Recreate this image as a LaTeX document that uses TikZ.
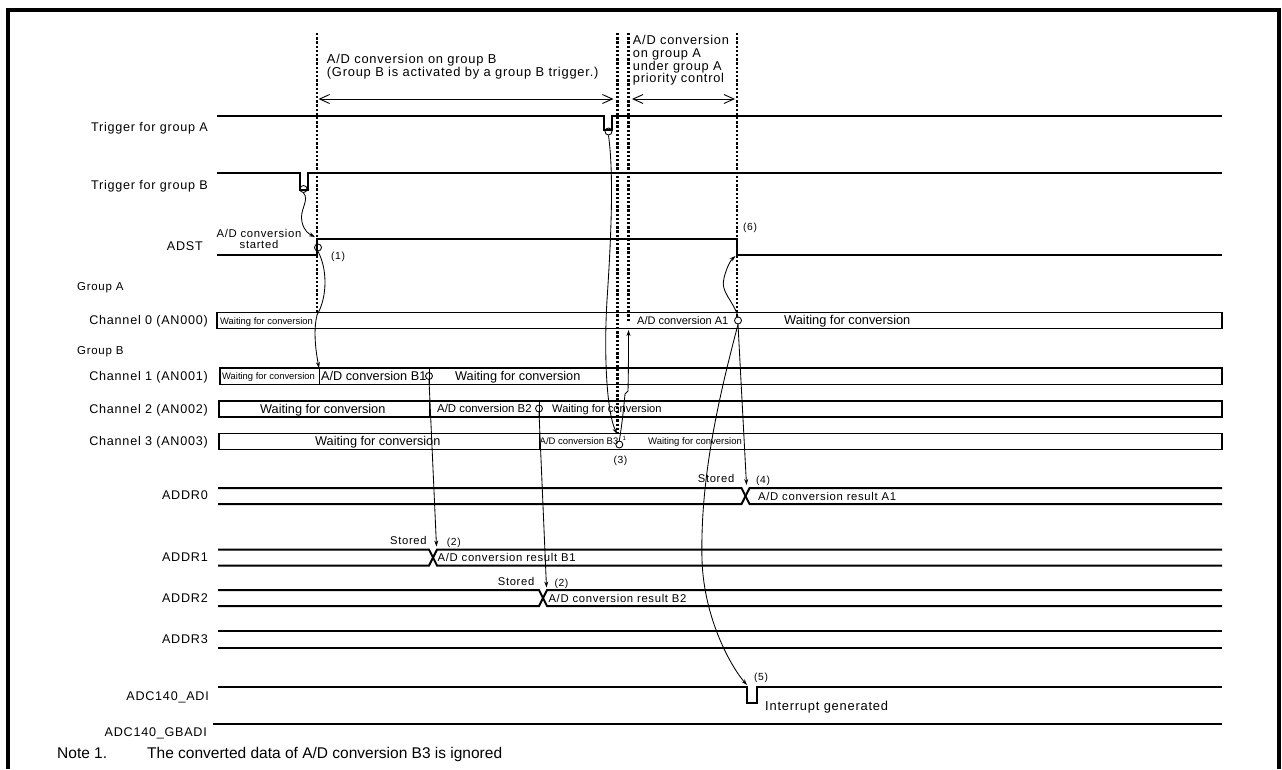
\documentclass[tikz,border=0pt]{standalone}
\usepackage{fontspec}
\setmainfont{Liberation Sans}[LetterSpace=6]
\newfontfamily\plainsf{Liberation Sans}
\usetikzlibrary{arrows.meta}
\newcommand\fsz[1]{\fontsize{#1}{#1}\selectfont}
\begin{document}
\begin{tikzpicture}[x=1pt,y=-1pt,
  sig/.style={line width=2pt,line join=miter},
  chbox/.style={draw,line width=1.8pt},
  divl/.style={line width=1pt},
  dotl/.style={line width=2.4pt,dash pattern=on 2.4pt off 1.8pt},
  conn/.style={line width=0.85pt,-{Stealth[length=6pt,width=4pt]}},
  span/.style={line width=0.9pt,{Straight Barb[length=10pt,width=9pt]}-{Straight Barb[length=10pt,width=9pt]}},
  circ/.style={circle,draw,line width=0.85pt,minimum size=7pt,inner sep=0pt},
  lab/.style={anchor=base east,inner sep=0pt,font=\fsz{12.6}},
  txt/.style={anchor=base west,inner sep=0pt},
  ctxt/.style={anchor=base,inner sep=0pt},
]
\useasboundingbox (0,0) rectangle (1282,769);
\fill[white] (0,0) rectangle (1282,769);
% frame
\draw[line width=3.5pt] (8,769) -- (8,10) -- (1279,10) -- (1279,769);

% ---------- labels ----------
\node[lab] (lTA) at (208,131) {Trigger for group A};
\node[lab] (lTB) at (208,189) {Trigger for group B};
\node[lab] (lADST) at (203,250) {ADST};
\node[txt,font=\fsz{11.5}] (lGA) at (77,290.5) {Group A};
\node[txt,font=\fsz{11.5}] (lGB) at (77,354.5) {Group B};
\node[lab] (lC0) at (208,324.5) {Channel 0 (AN000)};
\node[lab] (lC1) at (208,380) {Channel 1 (AN001)};
\node[lab] (lC2) at (208,413) {Channel 2 (AN002)};
\node[lab] (lC3) at (208,445) {Channel 3 (AN003)};
\node[lab] (lR0) at (208,499.5) {ADDR0};
\node[lab] (lR1) at (208,561.5) {ADDR1};
\node[lab] (lR2) at (208,602.5) {ADDR2};
\node[lab] (lR3) at (208,643.3) {ADDR3};
\node[lab] (lADI) at (209,700.7) {ADC140\_ADI};
\node[lab] (lGBADI) at (207,736.7) {ADC140\_GBADI};

% ---------- top annotations ----------
\node[txt,font=\fsz{12.9}] (an1) at (326.7,63.3) {A/D conversion on group B};
\node[txt,font=\fsz{12.9}] (an2) at (326.7,76) {(Group B is activated by a group B trigger.)};
\node[txt,font=\fsz{12.8}] (an3) at (632.7,44.3) {A/D conversion};
\node[txt,font=\fsz{12.8}] (an4) at (632.7,57.3) {on group A};
\node[txt,font=\fsz{12.8}] (an5) at (632.7,70) {under group A};
\node[txt,font=\fsz{12.8}] (an6) at (632.7,82.3) {priority control};

% ---------- dotted lines ----------
\coordinate (d1t) at (317,33);   \coordinate (d1b) at (317,314);
\coordinate (d2t) at (617.5,33); \coordinate (d2b) at (617.5,434);
\coordinate (d3t) at (628.5,33); \coordinate (d3b) at (628.5,322);
\coordinate (d4t) at (737,33);   \coordinate (d4b) at (737,318);
\draw[dotl] (d1t) -- (d1b);
\draw[dotl] (d2t) -- (d2b);
\draw[dotl] (d3t) -- (d3b);
\draw[dotl] (d4t) -- (d4b);

% ---------- span arrows ----------
\coordinate (s1a) at (318.5,99); \coordinate (s1b) at (613.5,99);
\coordinate (s2a) at (632,99);   \coordinate (s2b) at (735,99);
\draw[span] (s1a) -- (s1b);
\draw[span] (s2a) -- (s2b);

% ---------- trigger signals ----------
\draw[sig] (217,116) -- (604,116) -- (604,130) -- (611.5,130) -- (611.5,116) -- (1222,116);
\node[circ] (cTA) at (608.5,131.5) {};
\draw[sig] (217,173) -- (299.5,173) -- (299.5,189.5) -- (308,189.5) -- (308,173) -- (1222,173);
\node[circ] (cTB) at (303.5,189) {};

% ---------- ADST ----------
\draw[sig] (217,255) -- (317,255) -- (317,239) -- (737,239) -- (737,255) -- (1222,255);
\node[circ] (cAD) at (318,247.5) {};
\node[ctxt,font=\fsz{11.3}] (adst1) at (259,237.7) {A/D conversion};
\node[ctxt,font=\fsz{11.3}] (adst2) at (259,248.5) {started};
\node[txt,font=\fsz{10.3}] (n1) at (331,259.5) {(1)};
\node[txt,font=\fsz{10.3}] (n6) at (743,230.7) {(6)};
\coordinate (adR) at (315,237);
\coordinate (adF) at (735.5,256);

% ---------- channel boxes ----------
\draw[chbox] (217,312.5) rectangle (1222,328.5);
\node[txt,font=\plainsf\fsz{9.4}] (t00) at (220,324) {Waiting for conversion};
\node[txt,font=\plainsf\fsz{11}] (t01) at (637,324.5) {A/D conversion A1};
\node[circ] (cA1) at (738,320.5) {};
\node[txt,font=\plainsf\fsz{12.8}] (t02) at (784,324.8) {Waiting for conversion};

\draw[chbox] (220,368) rectangle (1222,384.5);
\draw[divl] (319,368) -- (319,384.5);
\draw[divl] (429,368) -- (429,384.5);
\node[txt,font=\plainsf\fsz{9.4}] (t10) at (222,379.5) {Waiting for conversion};
\node[txt,font=\plainsf\fsz{12.7}] (t11) at (321,380.5) {A/D conversion B1};
\node[circ] (cB1) at (429,376) {};
\node[txt,font=\plainsf\fsz{12.7}] (t12) at (455,380.5) {Waiting for conversion};

\draw[chbox] (219,401) rectangle (1222,417);
\draw[divl] (429,401) -- (429,417);
\draw[divl] (539,401) -- (539,417);
\node[txt,font=\plainsf\fsz{12.7}] (t20) at (260,413) {Waiting for conversion};
\node[txt,font=\plainsf\fsz{11.4}] (t21) at (437,412.7) {A/D conversion B2};
\node[circ] (cB2) at (539,408.5) {};
\node[txt,font=\plainsf\fsz{11.1}] (t22) at (552,412.7) {Waiting for conversion};

\draw[chbox] (219,433.5) rectangle (1222,449.5);
\draw[divl] (539,433.5) -- (539,449.5);
\node[txt,font=\plainsf\fsz{12.7}] (t30) at (315,445.5) {Waiting for conversion};
\node[txt,font=\plainsf\fsz{9.5}] (t31) at (539.5,444.8) {A/D conversion B3};
\node[txt,font=\plainsf\fsz{6}] (sup1) at (622.5,440) {1};
\node[circ] (cB3) at (619.3,444.5) {};
\node[txt,font=\plainsf\fsz{9.5}] (t32) at (648,444.8) {Waiting for conversion};
\node[txt,font=\fsz{10.3}] (n3) at (613.3,463) {(3)};

\coordinate (c0i) at (628.5,330);
\coordinate (c1d) at (319,368);
\coordinate (c3i) at (617,434);

% ---------- ADDR buses ----------
\draw[sig] (218,488) -- (741.5,488) -- (749.5,504) -- (1222,504);
\draw[sig] (218,504) -- (741.5,504) -- (749.5,488) -- (1222,488);
\node[txt,font=\fsz{11.2}] (st0) at (697.7,482.7) {Stored};
\node[txt,font=\fsz{10.3}] (n4) at (756,483) {(4)};
\node[txt,font=\fsz{11.3}] (r0) at (758,500) {A/D conversion result A1};
\coordinate (x0t) at (746.5,485);

\draw[sig] (218,549.5) -- (429,549.5) -- (437,565.5) -- (1222,565.5);
\draw[sig] (218,565.5) -- (429,565.5) -- (437,549.5) -- (1222,549.5);
\node[txt,font=\fsz{11.2}] (st1) at (390,544) {Stored};
\node[txt,font=\fsz{10.3}] (n2a) at (446.7,545) {(2)};
\node[txt,font=\fsz{11.3}] (r1) at (437.5,561.5) {A/D conversion result B1};
\coordinate (x1t) at (436.5,546.5);

\draw[sig] (218,590) -- (539,590) -- (547,606) -- (1222,606);
\draw[sig] (218,606) -- (539,606) -- (547,590) -- (1222,590);
\node[txt,font=\fsz{11.2}] (st2) at (497.7,585) {Stored};
\node[txt,font=\fsz{10.3}] (n2b) at (554.3,586) {(2)};
\node[txt,font=\fsz{11.3}] (r2) at (548.3,602.3) {A/D conversion result B2};
\coordinate (x2t) at (546.5,587.5);

\draw[sig] (218,631) -- (1222,631);
\draw[sig] (218,647.5) -- (1222,647.5);

% ---------- interrupts ----------
\draw[sig] (218,687) -- (747,687) -- (747,703) -- (757,703) -- (757,687) -- (1222,687);
\node[txt,font=\fsz{10.3}] (n5) at (754,680) {(5)};
\node[txt,font=\fsz{12.9}] (ig) at (765,710) {Interrupt generated};
\coordinate (adiP) at (747,685);
\draw[sig] (213,724) -- (1222,724);

% ---------- note ----------
\node[txt,font=\plainsf\fsz{15.5}] (note1) at (57,758) {Note 1.};
\node[txt,font=\plainsf\fsz{15.5}] (note2) at (147,758) {The converted data of A/D conversion B3 is ignored};

% ---------- connectors ----------
\draw[conn] (cTB.south) .. controls (310,200) and (299,210) .. (302,222) .. controls (304,231) and (309,234) .. (adR);
\draw[conn] (cAD.south) .. controls (327,268) and (328,296) .. (317,315) .. controls (313,332) and (316,352) .. (c1d);
\draw[conn] (cTA.south) .. controls (614,175) and (611,240) .. (607,300) .. controls (604,350) and (606,410) .. (c3i);
\draw[conn] (cB3.north) .. controls (622,425) and (624,405) .. (625,394) -- (628,391) .. controls (628.5,370) and (628.5,350) .. (c0i);
\draw[conn] (cA1.north) .. controls (733,300) and (720,292) .. (724,278) .. controls (727,266) and (731,260) .. (adF);
\draw[conn] (cA1.south) -- (x0t);
\draw[conn] (cA1.south) .. controls (718,400) and (700,480) .. (702,560) .. controls (704,620) and (732,668) .. (adiP);
\draw[conn] (cB1.south) -- (x1t);
\draw[conn] (cB2.south) -- (x2t);
\end{tikzpicture}
\end{document}
